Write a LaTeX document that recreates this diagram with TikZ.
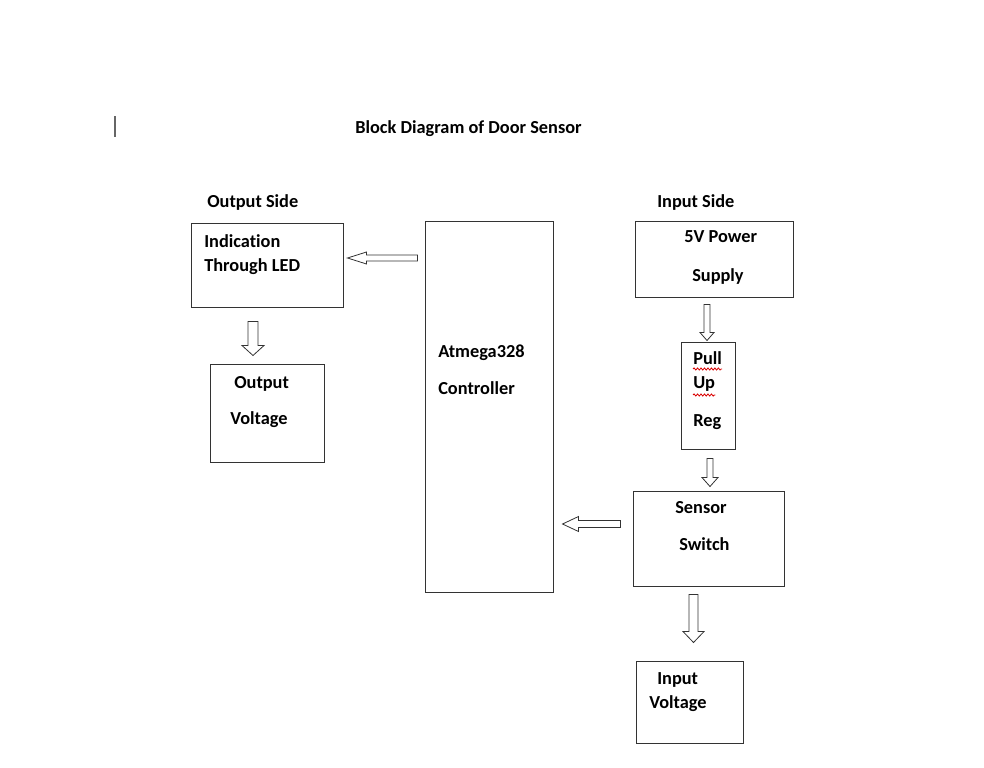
\documentclass[tikz,border=0pt]{standalone}
\usepackage{fontspec}
\setmainfont{Carlito}[Ligatures=NoCommon]
\usetikzlibrary{calc,decorations.pathmorphing}

\tikzset{
  blk/.style 2 args={draw=black!80, line width=0.75pt, minimum width=#1*0.75pt, minimum height=#2*0.75pt, inner sep=0pt},
  lbl/.style={anchor=base west, inner sep=0pt, font=\fontsize{13.75}{16}\selectfont\bfseries},
  % hollow block arrow pointing left: shaft/head/head length
  larrow/.style args={#1/#2/#3}{draw=black!80, line width=0.6pt, fill=white, to path={
    ($(\tikztostart)+(0,-#1)$) -- ($(\tikztotarget)+(#3,-#1)$) -- ($(\tikztotarget)+(#3,-#2)$)
    -- (\tikztotarget) -- ($(\tikztotarget)+(#3,#2)$) -- ($(\tikztotarget)+(#3,#1)$)
    -- ($(\tikztostart)+(0,#1)$) -- cycle}},
  % hollow block arrow pointing down
  darrow/.style args={#1/#2/#3}{draw=black!80, line width=0.6pt, fill=white, to path={
    ($(\tikztostart)+(-#1,0)$) -- ($(\tikztotarget)+(-#1,-#3)$) -- ($(\tikztotarget)+(-#2,-#3)$)
    -- (\tikztotarget) -- ($(\tikztotarget)+(#2,-#3)$) -- ($(\tikztotarget)+(#1,-#3)$)
    -- ($(\tikztostart)+(#1,0)$) -- cycle}},
  spell/.style={draw=red!85!black, line width=0.6pt, decorate, decoration={snake, amplitude=0.8pt, segment length=2.6pt}},
}

\begin{document}
\begin{tikzpicture}[x=0.75pt, y=-0.75pt]
  \useasboundingbox (0,0) rectangle (984,767);

  % cursor and title
  \draw[black!60, line width=0.9pt] (115,116) -- (115,137);
  \node[lbl] (title) at (355,133) {Block Diagram of Door Sensor};
  \node[lbl] (outside) at (207,207) {Output Side};
  \node[lbl] (inside) at (657,207) {Input Side};

  % blocks
  \node[blk={152}{84}] (ind) at (267,265) {};
  \node[blk={114}{98}] (outv) at (267,413) {};
  \node[blk={128}{371}] (atm) at (489,406.5) {};
  \node[blk={158}{76}] (psu) at (714,259) {};
  \node[blk={54}{107}] (pull) at (708,395.5) {};
  \node[blk={151}{95}] (sens) at (708.5,538.5) {};
  \node[blk={107}{82}] (inv) at (689.5,702) {};

  % block texts
  \node[lbl] (tind1) at (204,247) {Indication};
  \node[lbl] (tind2) at (204,271) {Through LED};
  \node[lbl] (toutv1) at (234,388) {Output};
  \node[lbl] (toutv2) at (230,424) {Voltage};
  \node[lbl] (tatm1) at (438,357) {Atmega328};
  \node[lbl] (tatm2) at (438,394) {Controller};
  \node[lbl] (tpsu1) at (684,242) {5V Power};
  \node[lbl] (tpsu2) at (692,281) {Supply};
  \node[lbl] (tpull1) at (693,364) {Pull};
  \node[lbl] (tpull2) at (693,388) {Up};
  \node[lbl] (tpull3) at (693,426) {Reg};
  \node[lbl] (tsens1) at (675,513) {Sensor};
  \node[lbl] (tsens2) at (679,550) {Switch};
  \node[lbl] (tinv1) at (657,684) {Input};
  \node[lbl] (tinv2) at (649,708) {Voltage};

  % spell check marks
  \draw[spell] ($(tpull1.base west)+(0,5)$) -- ($(tpull1.base east)+(0,5)$);
  \draw[spell] ($(tpull2.base west)+(0,7)$) -- ($(tpull2.base east)+(0,7)$);

  % arrows
  \draw[larrow=3/6/19] ($(atm.west)+(-7,-148.5)$) to ($(ind.east)+(4,-7)$);
  \draw[darrow=5/11/10] ($(ind.south)+(-14,14)$) to ($(outv.north)+(-14,-8)$);
  \draw[darrow=3/7/8] ($(psu.south)+(-7,7)$) to ($(pull.north)+(-1,-1)$);
  \draw[darrow=3/8/9] ($(pull.south)+(2,9)$) to ($(sens.north)+(1.5,-4)$);
  \draw[larrow=3.5/7.5/16] ($(sens.west)+(-12,-14.5)$) to ($(atm.east)+(9,117.5)$);
  \draw[darrow=4.5/10.5/11] ($(sens.south)+(-15,8)$) to ($(inv.north)+(4,-18)$);
\end{tikzpicture}
\end{document}
